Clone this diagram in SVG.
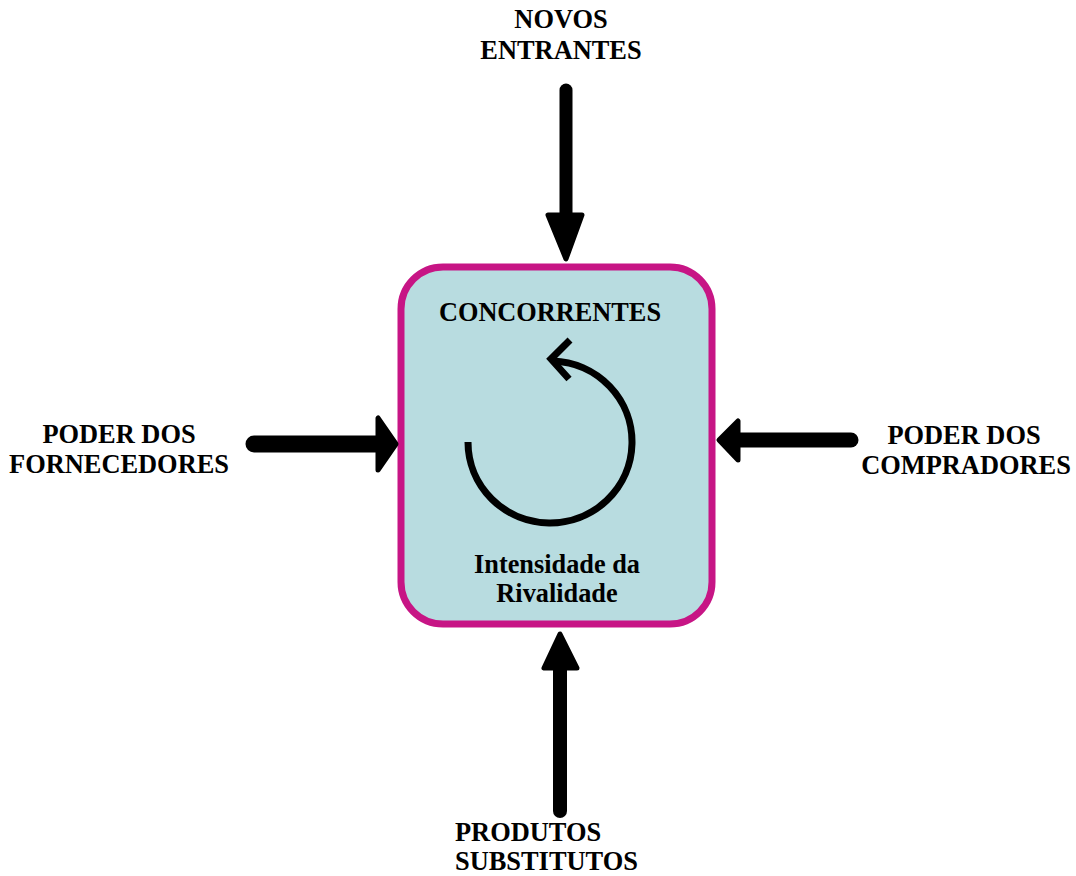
<svg xmlns="http://www.w3.org/2000/svg" width="1076" height="876" viewBox="0 0 1076 876">
<style>
.lbl{font-family:"Liberation Serif","Times New Roman",serif;font-weight:bold;font-size:26.4px;fill:#000}
.in{font-family:"Liberation Serif","Times New Roman",serif;font-weight:bold;font-size:26.3px;fill:#000}
.shaft{stroke:#000;stroke-linecap:round;fill:none}
.head{fill:#000;stroke:#000;stroke-width:5;stroke-linejoin:round}
</style>
<rect width="1076" height="876" fill="#fff"/>
<g id="concorrentes">
<rect x="401" y="267" width="311" height="357" rx="42" ry="42" fill="#B8DCE0" stroke="#C71585" stroke-width="7"/>
<text class="in" x="550" y="321" text-anchor="middle">CONCORRENTES</text>
<path d="M 468 442 A 82 81 0 1 0 553 361" fill="none" stroke="#000" stroke-width="7"/>
<polyline points="570,340 551,359 569,379" fill="none" stroke="#000" stroke-width="7" stroke-linecap="butt"/>
<text class="in" x="557" y="573" text-anchor="middle">Intensidade da</text>
<text class="in" x="557" y="602" text-anchor="middle">Rivalidade</text>
</g>
<g id="novos-entrantes">
<text class="lbl" x="561" y="28" text-anchor="middle">NOVOS</text>
<text class="lbl" x="561" y="59" text-anchor="middle">ENTRANTES</text>
</g>
<g id="fornecedores">
<text class="lbl" x="119" y="443" text-anchor="middle">PODER DOS</text>
<text class="lbl" x="119" y="473" text-anchor="middle">FORNECEDORES</text>
</g>
<g id="compradores">
<text class="lbl" x="964" y="444" text-anchor="middle">PODER DOS</text>
<text class="lbl" x="966" y="474" text-anchor="middle">COMPRADORES</text>
</g>
<g id="substitutos">
<text class="lbl" x="455" y="841">PRODUTOS</text>
<text class="lbl" x="455" y="870">SUBSTITUTOS</text>
</g>
<g id="connectors">
<line class="shaft" x1="566" y1="90" x2="566" y2="216" stroke-width="13"/>
<polygon class="head" points="548,215 582,215 566,259"/>
<line class="shaft" x1="560" y1="811" x2="560" y2="668" stroke-width="14"/>
<polygon class="head" points="544,668 577,668 560,634"/>
<line class="shaft" x1="254" y1="444" x2="380" y2="444" stroke-width="17"/>
<polygon class="head" points="378,418 378,470 396,444"/>
<line class="shaft" x1="851" y1="440" x2="738" y2="440" stroke-width="15"/>
<polygon class="head" points="738,421 738,460 719,440"/>
</g>
</svg>
